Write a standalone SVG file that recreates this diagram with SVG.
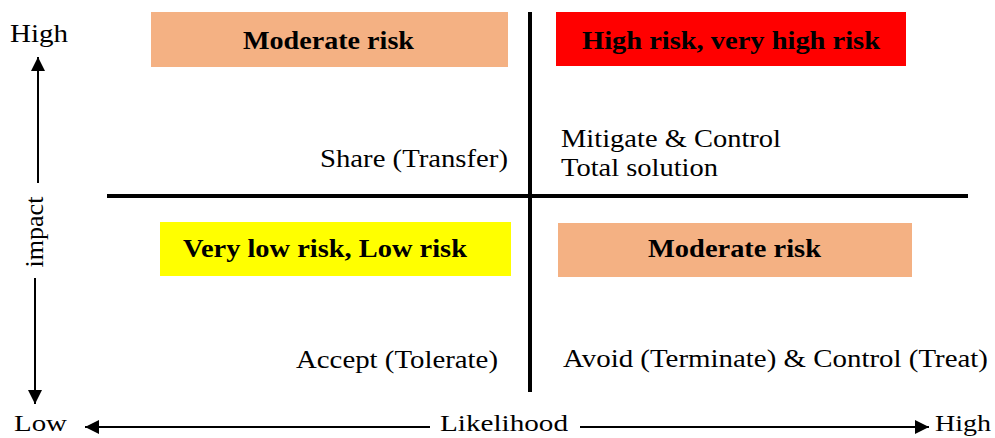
<svg xmlns="http://www.w3.org/2000/svg" width="995" height="438" viewBox="0 0 995 438">
<style>
.t{font-family:"Liberation Serif","Times New Roman",serif;font-size:26px;fill:#000}
.s{font-size:23px}
.b{font-family:"Liberation Serif","Times New Roman",serif;font-size:26px;font-weight:bold;fill:#000}
.ax{stroke:#000;stroke-width:2;fill:none}
.div{stroke:#000;stroke-width:4;fill:none}
</style>
<defs>
<marker id="ah2" viewBox="0 0 10 10" refX="10" refY="5" markerWidth="14" markerHeight="14" orient="auto" markerUnits="userSpaceOnUse">
<path d="M0,0 L10,5 L0,10 z" fill="#000"/>
</marker>
</defs>
<rect width="995" height="438" fill="#fff"/>
<g id="connectors">
<line class="div" x1="530" y1="12" x2="530" y2="392"/>
<line class="div" x1="107" y1="196" x2="968" y2="196"/>
<line class="ax" x1="38" y1="183" x2="38" y2="57" marker-end="url(#ah2)"/>
<line class="ax" x1="35" y1="278" x2="35" y2="404" marker-end="url(#ah2)"/>
<line class="ax" x1="430" y1="427" x2="85" y2="427" marker-end="url(#ah2)"/>
<line class="ax" x1="580" y1="427" x2="929" y2="427" marker-end="url(#ah2)"/>
</g>
<g id="q-top-left">
<rect x="151" y="12" width="357" height="55" fill="#f4b183"/>
<text class="b" x="243" y="49" textLength="171" lengthAdjust="spacingAndGlyphs">Moderate risk</text>
</g>
<g id="q-top-right">
<rect x="556" y="12" width="350" height="54" fill="#ff0000"/>
<text class="b" x="582" y="49" textLength="298" lengthAdjust="spacingAndGlyphs">High risk, very high risk</text>
</g>
<g id="q-bottom-left">
<rect x="160" y="222" width="351" height="54" fill="#ffff00"/>
<text class="b" x="183" y="257" textLength="284" lengthAdjust="spacingAndGlyphs">Very low risk, Low risk</text>
</g>
<g id="q-bottom-right">
<rect x="558" y="223" width="354" height="54" fill="#f4b183"/>
<text class="b" x="648" y="257" textLength="173" lengthAdjust="spacingAndGlyphs">Moderate risk</text>
</g>
<g id="share">
<text class="t" x="320" y="167" textLength="188" lengthAdjust="spacingAndGlyphs">Share (Transfer)</text>
</g>
<g id="mitigate">
<text class="t" x="561" y="147" textLength="220" lengthAdjust="spacingAndGlyphs">Mitigate &amp; Control</text>
<text class="t" x="561" y="176" textLength="157" lengthAdjust="spacingAndGlyphs">Total solution</text>
</g>
<g id="accept">
<text class="t" x="296" y="368" textLength="202" lengthAdjust="spacingAndGlyphs">Accept (Tolerate)</text>
</g>
<g id="avoid">
<text class="t" x="563" y="367" textLength="425" lengthAdjust="spacingAndGlyphs">Avoid (Terminate) &amp; Control (Treat)</text>
</g>
<g id="axis-impact">
<text class="t" x="10" y="42" textLength="58" lengthAdjust="spacingAndGlyphs">High</text>
<text class="t" transform="translate(43,232) rotate(-90)" text-anchor="middle">impact</text>
<text class="t s" x="14" y="431" textLength="53" lengthAdjust="spacingAndGlyphs">Low</text>
</g>
<g id="axis-likelihood">
<text class="t s" x="440" y="431" textLength="128" lengthAdjust="spacingAndGlyphs">Likelihood</text>
<text class="t s" x="935" y="431" textLength="56" lengthAdjust="spacingAndGlyphs">High</text>
</g>
</svg>
